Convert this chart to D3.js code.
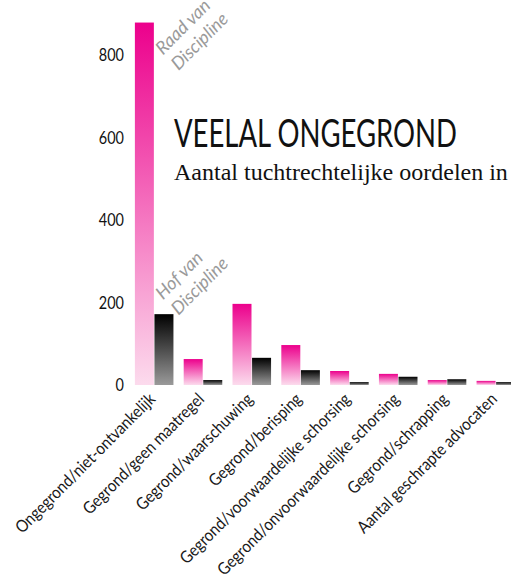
<!DOCTYPE html>
<html>
<head>
    <meta charset="utf-8">
    <title>Veelal ongegrond</title>
    <script src="https://d3js.org/d3.v7.min.js"></script>
    <style>
        body { margin: 0; background: #fff; }
        svg { display: block; }
    </style>
</head>
<body>
    <div id="chart"></div>

    <script>
        // data
        var categories = [
            "Ongegrond/niet-ontvankelijk",
            "Gegrond/geen maatregel",
            "Gegrond/waarschuwing",
            "Gegrond/berisping",
            "Gegrond/voorwaardelijke schorsing",
            "Gegrond/onvoorwaardelijke schorsing",
            "Gegrond/schrapping",
            "Aantal geschrapte advocaten"
        ];
        var raadValues = [880, 63, 197, 97, 34, 27, 12, 10];
        var hofValues = [172, 12, 66, 36, 7, 20, 14, 7];
        var seriesNames = ["Raad van Discipline", "Hof van Discipline"];
        var yTicks = [0, 200, 400, 600, 800];
        var title = "VEELAL ONGEGROND";
        var subtitle = "Aantal tuchtrechtelijke oordelen in";

        var width = 511, height = 577;
        var margin = { top: 55.5, bottom: 192, left: 130, right: -9 };
        var sans = "Lato, 'Open Sans', sans-serif";

        // squeeze a text horizontally (no condensed face installed)
        function condense(sel, k) {
            sel.each(function () {
                var len = this.getComputedTextLength();
                d3.select(this)
                    .attr("textLength", len * k)
                    .attr("lengthAdjust", "spacingAndGlyphs");
            });
        }

        var svg = d3.select("#chart")
            .append("svg")
            .attr("width", width)
            .attr("height", height);

        // gradients
        var defs = svg.append("defs");
        var gradPink = defs.append("linearGradient")
            .attr("id", "gradRaad")
            .attr("x1", 0).attr("y1", 0).attr("x2", 0).attr("y2", 1);
        gradPink.append("stop").attr("offset", "0%").attr("stop-color", "#ec008c");
        gradPink.append("stop").attr("offset", "100%").attr("stop-color", "#fcdbed");
        var gradGray = defs.append("linearGradient")
            .attr("id", "gradHof")
            .attr("x1", 0).attr("y1", 0).attr("x2", 0).attr("y2", 1);
        gradGray.append("stop").attr("offset", "0%").attr("stop-color", "#000000");
        gradGray.append("stop").attr("offset", "100%").attr("stop-color", "#9a9a9a");

        // scales
        var x = d3.scaleBand()
            .domain(categories)
            .range([margin.left, width - margin.right])
            .paddingInner(0.21)
            .paddingOuter(0.1);

        var xSub = d3.scaleBand()
            .domain(seriesNames)
            .range([0, x.bandwidth()])
            .paddingInner(0.03);

        var y = d3.scaleLinear()
            .domain([0, 800])
            .range([height - margin.bottom, margin.top]);

        var rows = categories.map(function (c, i) {
            return { cat: c, values: [
                { key: seriesNames[0], value: raadValues[i], fill: "url(#gradRaad)" },
                { key: seriesNames[1], value: hofValues[i], fill: "url(#gradHof)" }
            ] };
        });

        // bars
        var groups = svg.append("g")
            .selectAll("g")
            .data(rows)
            .join("g")
            .attr("transform", function (d) { return "translate(" + x(d.cat) + ",0)"; });

        groups.selectAll("rect")
            .data(function (d) { return d.values; })
            .join("rect")
            .attr("x", function (d) { return xSub(d.key); })
            .attr("y", function (d) { return y(d.value); })
            .attr("width", xSub.bandwidth())
            .attr("height", function (d) { return y(0) - y(d.value); })
            .attr("fill", function (d) { return d.fill; });

        // y axis (labels only)
        var yAxis = svg.append("g")
            .attr("transform", "translate(" + (margin.left - 6) + ",0)")
            .call(d3.axisLeft(y).tickValues(yTicks).tickSize(0).tickPadding(0));
        yAxis.select(".domain").remove();
        yAxis.selectAll("text")
            .style("font-family", sans)
            .style("font-size", "17px")
            .attr("fill", "#111")
            .call(condense, 0.85);

        // x axis (rotated labels)
        var xAxis = svg.append("g")
            .attr("transform", "translate(0," + y(0) + ")")
            .call(d3.axisBottom(x).tickSize(0));
        xAxis.select(".domain").remove();
        xAxis.selectAll("text")
            .style("font-family", sans)
            .style("font-size", "17px")
            .attr("fill", "#1a1a1a")
            .attr("x", 0)
            .attr("y", 0)
            .attr("dy", "0.35em")
            .attr("text-anchor", "end")
            .attr("transform", "translate(-2,11) rotate(-45)")
            .call(condense, 0.88);

        // series annotations next to the first group
        var notes = [
            { lines: ["Raad van", "Discipline"], value: 800 },
            { lines: ["Hof van", "Discipline"], value: 206 }
        ];
        notes.forEach(function (n) {
            var g = svg.append("g")
                .attr("transform", "translate(" + (x(categories[0]) + 28) + "," + y(n.value) + ") rotate(-45)");
            g.selectAll("text")
                .data(n.lines)
                .join("text")
                .attr("x", 0)
                .attr("y", function (d, i) { return i * 22; })
                .style("font-family", sans)
                .style("font-size", "18px")
                .style("font-style", "italic")
                .attr("fill", "#9a9a9a")
                .text(function (d) { return d; });
        });

        // title + subtitle
        svg.append("text")
            .attr("x", 174)
            .attr("y", 147)
            .attr("textLength", 283)
            .attr("lengthAdjust", "spacingAndGlyphs")
            .style("font-family", sans)
            .style("font-size", "38px")
            .attr("fill", "#111")
            .text(title);

        svg.append("text")
            .attr("x", 174)
            .attr("y", 180)
            .style("font-family", "'Liberation Serif', 'DejaVu Serif', serif")
            .style("font-size", "24px")
            .attr("fill", "#111")
            .text(subtitle);
    </script>
</body>
</html>
